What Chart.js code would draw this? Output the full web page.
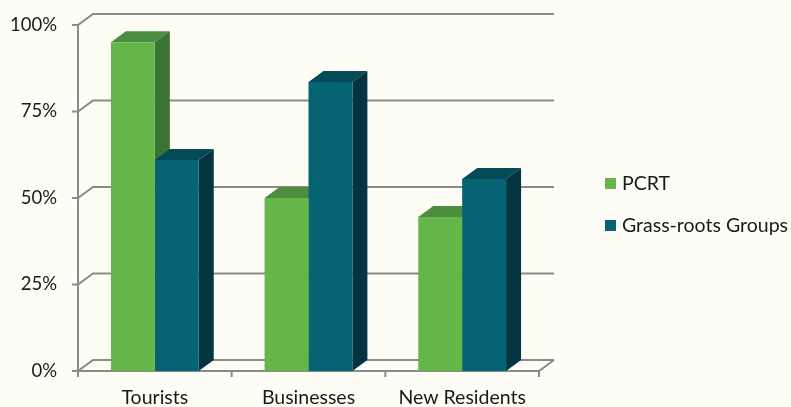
<!DOCTYPE html>
<html>
<head>
<meta charset="utf-8">
<style>
  html, body { margin: 0; padding: 0; background: #fdfdf6; }
  #wrap { width: 791px; height: 407px; }
</style>
<script src="https://cdn.jsdelivr.net/npm/chart.js@4"></script>
</head>
<body>
<div id="wrap"><canvas id="chart" width="791" height="407"></canvas></div>
<script>
// Audience groups and the share reached by each kind of organisation
const categories = ['Tourists', 'Businesses', 'New Residents'];
const seriesNames = ['PCRT', 'Grass-roots Groups'];
const pcrtValues = [95, 50, 44.5];
const grassRootsValues = [61, 83.5, 55.5];
const yTickValues = [0, 25, 50, 75, 100];

// Face colours for the extruded columns: front, top, side
const palette = [
  { front: '#63b647', top: '#4b8e40', side: '#3a7435' },
  { front: '#066373', top: '#044b57', side: '#02353f' }
];
const DEPTH_X = 15;
const DEPTH_Y = -11;
const GRID = '#8a8a8a';
const FONT = 'Lato, "Open Sans", sans-serif';
const VALUE_FONT_SIZE = 18.5;
const LABEL_FONT_SIZE = 19.5;

// Back wall, floor and column tops/sides, painted before the front faces
const depthPlugin = {
  id: 'depth',
  beforeDatasetsDraw(chart) {
    const { ctx, chartArea: a, scales: { x, y } } = chart;
    ctx.save();
    ctx.strokeStyle = GRID;
    ctx.lineWidth = 2;

    // front value axis
    ctx.beginPath();
    ctx.moveTo(a.left, a.top);
    ctx.lineTo(a.left, a.bottom + 6);
    ctx.stroke();

    // gridlines: tick mark, side-wall diagonal, back-wall line
    y.ticks.forEach(t => {
      const py = y.getPixelForValue(t.value);
      ctx.beginPath();
      ctx.moveTo(a.left - 6, py);
      ctx.lineTo(a.left, py);
      ctx.lineTo(a.left + DEPTH_X, py + DEPTH_Y);
      ctx.lineTo(a.right + DEPTH_X, py + DEPTH_Y);
      ctx.stroke();
    });

    // floor front edge and right edge
    const py0 = y.getPixelForValue(0);
    ctx.beginPath();
    ctx.moveTo(a.left, py0);
    ctx.lineTo(a.right, py0);
    ctx.lineTo(a.right + DEPTH_X, py0 + DEPTH_Y);
    ctx.stroke();

    // category separators below the floor
    const n = categories.length;
    for (let i = 0; i <= n; i++) {
      const px = a.left + (a.right - a.left) * i / n;
      ctx.beginPath();
      ctx.moveTo(px, py0);
      ctx.lineTo(px, py0 + 6);
      ctx.stroke();
    }

    // column tops and sides
    chart.data.datasets.forEach((ds, di) => {
      const meta = chart.getDatasetMeta(di);
      const col = palette[di];
      meta.data.forEach(bar => {
        const p = bar.getProps(['x', 'y', 'base', 'width'], true);
        const l = p.x - p.width / 2;
        const r = p.x + p.width / 2;
        ctx.fillStyle = col.top;
        ctx.beginPath();
        ctx.moveTo(l, p.y);
        ctx.lineTo(r, p.y);
        ctx.lineTo(r + DEPTH_X, p.y + DEPTH_Y);
        ctx.lineTo(l + DEPTH_X, p.y + DEPTH_Y);
        ctx.closePath();
        ctx.fill();
        ctx.fillStyle = col.side;
        ctx.beginPath();
        ctx.moveTo(r, p.y);
        ctx.lineTo(r + DEPTH_X, p.y + DEPTH_Y);
        ctx.lineTo(r + DEPTH_X, p.base + DEPTH_Y);
        ctx.lineTo(r, p.base);
        ctx.closePath();
        ctx.fill();
      });
    });
    ctx.restore();
  },
  // legend on the right
  afterDraw(chart) {
    const { ctx } = chart;
    ctx.save();
    ctx.font = LABEL_FONT_SIZE + 'px ' + FONT;
    ctx.textBaseline = 'middle';
    const rows = [184, 226];
    chart.data.datasets.forEach((ds, i) => {
      const cy = rows[i];
      ctx.fillStyle = ds.backgroundColor;
      ctx.fillRect(605, cy - 6, 11, 11);
      ctx.fillStyle = '#1a1a1a';
      ctx.fillText(ds.label, 622, cy);
    });
    ctx.restore();
  }
};

new Chart(document.getElementById('chart'), {
  type: 'bar',
  data: {
    labels: categories,
    datasets: [
      { label: seriesNames[0], data: pcrtValues, backgroundColor: palette[0].front },
      { label: seriesNames[1], data: grassRootsValues, backgroundColor: palette[1].front }
    ]
  },
  options: {
    responsive: false,
    animation: false,
    devicePixelRatio: 1,
    events: [],
    layout: { padding: { left: 0, top: 25, right: 252, bottom: 0 } },
    datasets: { bar: { categoryPercentage: 88 / 154, barPercentage: 1, borderWidth: 0 } },
    plugins: { legend: { display: false }, tooltip: { enabled: false } },
    scales: {
      x: {
        grid: { display: false, drawTicks: false },
        border: { display: false },
        ticks: { color: '#1a1a1a', font: { family: FONT, size: LABEL_FONT_SIZE }, padding: 15, maxRotation: 0 },
        afterFit(s) { s.height = 36; s.paddingLeft = 0; s.paddingRight = 0; }
      },
      y: {
        min: 0,
        max: 100,
        afterBuildTicks(s) { s.ticks = yTickValues.map(v => ({ value: v })); },
        grid: { display: false, drawTicks: false },
        border: { display: false },
        ticks: {
          color: '#1a1a1a',
          font: { family: FONT, size: VALUE_FONT_SIZE },
          padding: 21,
          callback: v => v + '%'
        },
        afterFit(s) { s.width = 78; s.paddingTop = 0; s.paddingBottom = 0; }
      }
    }
  },
  plugins: [depthPlugin]
});
</script>
</body>
</html>
